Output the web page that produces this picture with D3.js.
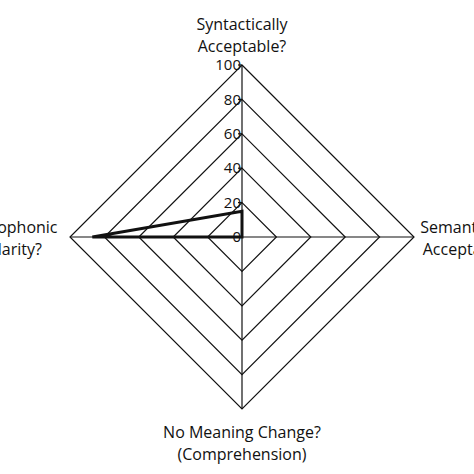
<!DOCTYPE html>
<html lang="en">
  <head>
    <meta charset="UTF-8" />
    <title>Radar</title>
    <style>
      body { margin: 0; background: #fff; }
      svg { display: block; }
      text { font-family: "Open Sans", sans-serif; fill: #111; }
    </style>
  </head>
  <body>
    <div id="radar">
      <svg width="474" height="474"></svg>
    </div>
    <script src="https://d3js.org/d3.v7.min.js"></script>
    <script>
      // axes, clockwise from the top
      var axisNames = [
        ["Syntactically", "Acceptable?"],
        ["Semantically", "Acceptable?"],
        ["No Meaning Change?", "(Comprehension)"],
        ["Graphophonic", "Similarity?"]
      ];
      var values = [15, 0, 0, 87];
      var tickValues = [0, 20, 40, 60, 80, 100];

      var svg = d3.select("#radar>svg");
      var cx = 242, cy = 237, radius = 172;

      var r = d3.scaleLinear().domain([0, 100]).range([0, radius]);
      var angle = d3.scaleLinear().domain([0, axisNames.length]).range([0, 2 * Math.PI]);

      var g = svg.append("g").attr("transform", "translate(" + cx + "," + cy + ")");

      function px(i, v) { return r(v) * Math.sin(angle(i)); }
      function py(i, v) { return -r(v) * Math.cos(angle(i)); }

      // grid diamonds
      var grid = tickValues.filter(function (t) { return t > 0; });
      g.selectAll(".grid")
        .data(grid)
        .enter()
        .append("path")
        .attr("fill", "none")
        .attr("stroke", "#111")
        .attr("stroke-width", 1.2)
        .attr("d", function (t) {
          return d3.line()(axisNames.map(function (a, i) { return [px(i, t), py(i, t)]; })) + "Z";
        });

      // spokes
      g.selectAll(".spoke")
        .data(axisNames)
        .enter()
        .append("line")
        .attr("x1", 0).attr("y1", 0)
        .attr("x2", function (d, i) { return px(i, 100); })
        .attr("y2", function (d, i) { return py(i, 100); })
        .attr("stroke", "#111")
        .attr("stroke-width", 1.2);

      // tick marks and labels along the top axis
      var ticks = g.selectAll(".tick").data(tickValues).enter().append("g")
        .attr("transform", function (t) { return "translate(0," + (-r(t)) + ")"; });
      ticks.append("line")
        .attr("x1", -4).attr("x2", 0)
        .attr("stroke", "#111").attr("stroke-width", 1.2);
      ticks.append("text")
        .attr("x", -1)
        .attr("dy", "0.35em")
        .attr("text-anchor", "end")
        .style("font-size", "15px")
        .text(function (t) { return t; });

      // data polygon
      g.append("path")
        .datum(values)
        .attr("fill", "none")
        .attr("stroke", "#111")
        .attr("stroke-width", 3)
        .attr("stroke-linejoin", "miter")
        .attr("d", function (d) {
          return d3.line()(d.map(function (v, i) { return [px(i, v), py(i, v)]; })) + "Z";
        });

      // axis labels (left and right ones run off the edge, as in the original)
      var labelPos = [
        { x: 0, y: -207 },
        { x: 225, y: -4 },
        { x: 0, y: 201 },
        { x: -238, y: -4 }
      ];
      axisNames.forEach(function (lines, i) {
        var t = g.append("text")
          .attr("text-anchor", "middle")
          .style("font-size", "16px")
          .attr("transform", "translate(" + labelPos[i].x + "," + labelPos[i].y + ")");
        lines.forEach(function (s, k) {
          t.append("tspan").attr("x", 0).attr("y", k * 22).text(s);
        });
      });
    </script>
  </body>
</html>
